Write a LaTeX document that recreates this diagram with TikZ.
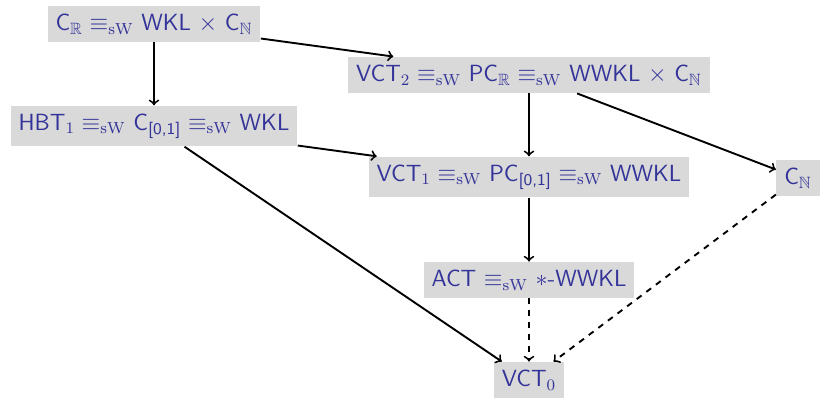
\documentclass[tikz,border=0pt]{standalone}
\usepackage{amsmath,amssymb}
\usetikzlibrary{arrows, positioning}
\definecolor{mtext}{HTML}{333399}
\definecolor{mfill}{HTML}{D9D9D9}
\newcommand{\sweq}{\equiv_{\mathrm{sW}}}
\tikzstyle{principle} = [rectangle, inner xsep=4pt, inner ysep=4pt, minimum height=17pt, text=mtext, fill=mfill, font=\sffamily\fontsize{11.7}{14}\selectfont]
\tikzstyle{reduction} = [line width=0.95pt, ->, >=to]
\tikzstyle{weakred} = [line width=0.95pt, dashed, ->, >=to]

\begin{document}
\begin{tikzpicture}[x=0.5pt, y=-0.5pt]
\useasboundingbox (0,0) rectangle (820,398);
%Principles
\node (cr) [principle] at (154,24) {C$_{\mathbb{R}}\sweq$ WKL $\times$ C$_{\mathbb{N}}$};
\node (vct2) [principle] at (529,75) {VCT$_2\sweq$ PC$_{\mathbb{R}}\sweq$ WWKL $\times$ C$_{\mathbb{N}}$};
\node (hbt) [principle] at (154,126) {HBT$_1\sweq$ C$_{\textsf{[0,1]}}\sweq$ WKL};
\node (vct1) [principle] at (529,177) {VCT$_1\sweq$ PC$_{\textsf{[0,1]}}\sweq$ WWKL};
\node (cn) [principle] at (798,178) {C$_{\mathbb{N}}$};
\node (act) [principle] at (529,280) {ACT $\sweq$ $*$-WWKL};
\node (vct0) [principle] at (529,380) {VCT$_0$};
%Reductions
\draw [reduction] (cr) -- (hbt);
\draw [reduction] (cr) -- (vct2);
\draw [reduction] (vct2) -- (vct1);
\draw [reduction] (vct2) -- (cn);
\draw [reduction] (hbt) -- (vct1);
\draw [reduction] (hbt) -- (vct0);
\draw [reduction] (vct1) -- (act);
\draw [weakred] (act) -- (vct0);
\draw [weakred] (cn) -- (vct0);
\end{tikzpicture}
\end{document}
